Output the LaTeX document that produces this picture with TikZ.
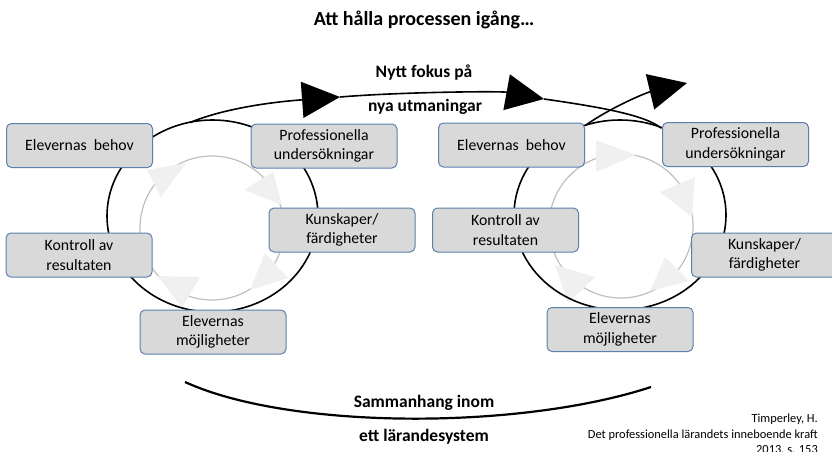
\documentclass[tikz,border=0pt]{standalone}
\usepackage{fontspec}
\setmainfont{Carlito}
\usetikzlibrary{arrows.meta}
\definecolor{boxfill}{RGB}{217,217,217}
\definecolor{boxline}{RGB}{91,128,172}
\definecolor{ringgray}{RGB}{191,191,191}
\definecolor{tipgray}{RGB}{240,240,240}
\begin{document}
\begin{tikzpicture}[x=1pt,y=-1pt,
    stage/.style ={rectangle, rounded corners=5pt, draw=boxline, fill=boxfill, line width=1pt,
      minimum width=146pt, minimum height=44pt, inner sep=0pt, align=center,
      font=\fontsize{15.8}{19.3}\selectfont},
    heading/.style ={inner sep=0pt, font=\bfseries\fontsize{17.5}{21}\selectfont},
    ring/.style ={ringgray, line width=1.2pt},
    ringtip/.style ={fill=tipgray},
    orbit/.style ={black, line width=1.6pt},
    bigtip/.style ={-{Triangle[length=38pt,width=36pt]}}]
   \clip (0,0) rectangle (832,452);
   \draw[ring] (212,228) circle [radius=72];
   \draw[ring] (621,226) circle [radius=72];
   \fill[ringtip] (147,170) -- (186,163) -- (161,197) -- cycle;
   \fill[ringtip] (244,190) -- (273,172) -- (282,205) -- cycle;
   \fill[ringtip] (250,290) -- (265,253) -- (288,278) -- cycle;
   \fill[ringtip] (158,276) -- (200,277) -- (182,308) -- cycle;
   \fill[ringtip] (596,140) -- (636,155) -- (596,172) -- cycle;
   \fill[ringtip] (660,192) -- (695,177) -- (692,217) -- cycle;
   \fill[ringtip] (650,291) -- (665,257) -- (689,281) -- cycle;
   \fill[ringtip] (555,265) -- (595,277) -- (568,303) -- cycle;
   \draw[orbit] (212.5,216) ellipse [x radius=105.5, y radius=96];
   \draw[orbit] (620,215) ellipse [x radius=106, y radius=95];

   \node[stage] (behovL) at (79.5,145.5) {Elevernas\ \ behov};
   \node[stage] (profL)  at (324,146)    {Professionella\\undersökningar};
   \node[stage] (kunskL) at (342,230)    {Kunskaper/\\färdigheter};
   \node[stage] (kontrL) at (79,255)     {Kontroll av\\resultaten};
   \node[stage] (mojlL)  at (213,332)    {Elevernas\\möjligheter};
   \node[stage] (behovR) at (511.5,145)  {Elevernas\ \ behov};
   \node[stage] (profR)  at (735.5,144.5) {Professionella\\undersökningar};
   \node[stage] (kontrR) at (505.5,230)  {Kontroll av\\resultaten};
   \node[stage] (kunskR) at (764.5,255)  {Kunskaper/\\färdigheter};
   \node[stage] (mojlR)  at (620,329.5)  {Elevernas\\möjligheter};

   \coordinate (loopL) at (190,122.5);
   \coordinate (fokusA) at (340,97);
   \coordinate (fokusB) at (544,99);
   \coordinate (fokusEnd) at (661,128);
   \coordinate (loopR) at (586,125);
   \coordinate (nextR) at (687,83);
   \coordinate (sysL) at (185,382);
   \coordinate (sysR) at (651,387);
   \draw[orbit, bigtip] (loopL) .. controls (235,104) and (300,100) .. (fokusA);
   \draw[orbit, bigtip] (fokusA) .. controls (400,92) and (500,91) .. (fokusB);
   \draw[orbit] (fokusB) .. controls (600,107) and (645,115) .. (fokusEnd);
   \draw[orbit, bigtip] (loopR) .. controls (610,108) and (645,93) .. (nextR);
   \draw[black, line width=2.2pt] (sysL) .. controls (290,430) and (520,430) .. (sysR);

   \node[heading, font=\bfseries\fontsize{20}{24}\selectfont] (title) at (424,20) {Att hålla processen igång…};
   \node[heading] (fokus1) at (424,73)  {Nytt fokus på};
   \node[heading] (fokus2) at (425,107) {nya utmaningar};
   \node[heading] (sys1)   at (424,403) {Sammanhang inom};
   \node[heading] (sys2)   at (424,437) {ett lärandesystem};
   \node[anchor=north east, inner sep=0pt, align=right, font=\fontsize{12.4}{15.2}\selectfont]
     (source) at (818,414) {Timperley, H.\\Det professionella lärandets inneboende kraft\\2013, s. 153};
 \end{tikzpicture}
\end{document}
